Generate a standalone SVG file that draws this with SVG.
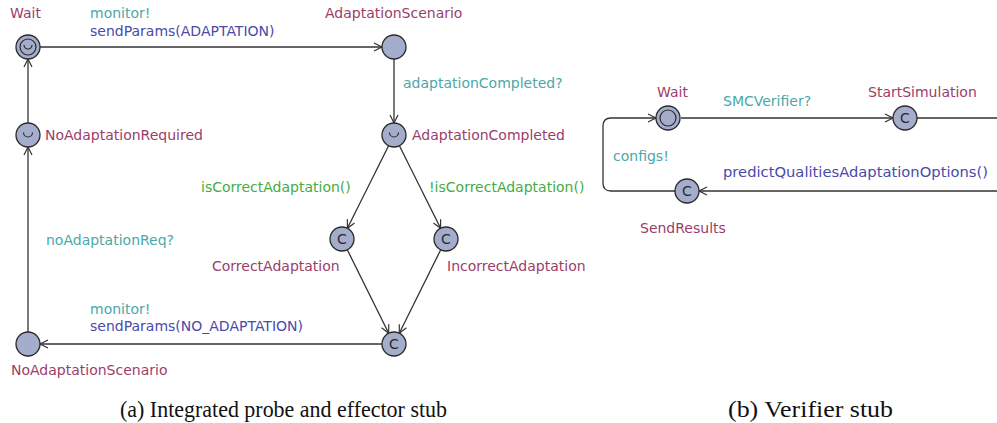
<svg xmlns="http://www.w3.org/2000/svg" width="997" height="423" viewBox="0 0 997 423">
<style>
text{font-family:"DejaVu Sans","Liberation Sans",sans-serif;font-size:14px}
.loc{fill:#a5adcc;stroke:#2a2a2a;stroke-width:1.3}
.ring{fill:none;stroke:#2a2a2a;stroke-width:1.2}
.name{fill:#9a3d6b}
.sync{fill:#4aa8aa}
.upd{fill:#4a4aaa}
.grd{fill:#45ac45}
.sym{font-size:14px;fill:#2a2a2a;text-anchor:middle}
.edge{fill:none;stroke:#333;stroke-width:1.3}
.cap{font-family:"Liberation Serif","Times New Roman",serif;font-size:22.5px;fill:#111}
</style>
<defs>
<marker id="ah" markerUnits="userSpaceOnUse" markerWidth="12" markerHeight="12" refX="9" refY="5" orient="auto">
<path d="M1,1 L9,5 L1,9" fill="none" stroke="#333" stroke-width="1.2"/>
</marker>
</defs>
<rect width="997" height="423" fill="#fff"/>
<g id="connectors">
<line class="edge" x1="40" y1="47" x2="382" y2="47" marker-end="url(#ah)"/>
<line class="edge" x1="394" y1="59" x2="394" y2="123" marker-end="url(#ah)"/>
<line class="edge" x1="388.6" y1="145.7" x2="347.4" y2="228.3" marker-end="url(#ah)"/>
<line class="edge" x1="399.4" y1="145.7" x2="440.6" y2="228.3" marker-end="url(#ah)"/>
<line class="edge" x1="347.3" y1="249.8" x2="388.7" y2="333.2" marker-end="url(#ah)"/>
<line class="edge" x1="440.7" y1="249.8" x2="399.3" y2="333.2" marker-end="url(#ah)"/>
<line class="edge" x1="382" y1="344" x2="40" y2="344" marker-end="url(#ah)"/>
<line class="edge" x1="28" y1="332" x2="28" y2="147" marker-end="url(#ah)"/>
<line class="edge" x1="28" y1="123" x2="28" y2="59" marker-end="url(#ah)"/>
<line class="edge" x1="681" y1="118" x2="893" y2="118" marker-end="url(#ah)"/>
<line class="edge" x1="917" y1="118" x2="997" y2="118"/>
<line class="edge" x1="997" y1="191" x2="699" y2="191" marker-end="url(#ah)"/>
<path class="edge" d="M675,191 H611 Q603,191 603,183 V126 Q603,118 611,118 H656" marker-end="url(#ah)"/>
</g>
<g id="wait">
<circle class="loc" cx="28" cy="47" r="12"/>
<circle class="ring" cx="28" cy="47" r="8"/>
<path class="ring" d="M24,45 a4,4 0 0 0 8,0"/>
<text class="name" x="10" y="18">Wait</text>
</g>
<g id="adaptationScenario">
<circle class="loc" cx="394" cy="47" r="12"/>
<text class="name" x="325" y="18">AdaptationScenario</text>
</g>
<g id="adaptationCompleted">
<circle class="loc" cx="394" cy="135" r="12"/>
<path class="ring" d="M389.5,132.5 a4.5,4.5 0 0 0 9,0"/>
<text class="name" x="412" y="140">AdaptationCompleted</text>
</g>
<g id="noAdaptationRequired">
<circle class="loc" cx="28" cy="135" r="12"/>
<path class="ring" d="M23.5,132.5 a4.5,4.5 0 0 0 9,0"/>
<text class="name" x="45" y="140">NoAdaptationRequired</text>
</g>
<g id="correctAdaptation">
<circle class="loc" cx="342" cy="239" r="12"/>
<text class="sym" x="342" y="244">C</text>
<text class="name" x="212" y="271">CorrectAdaptation</text>
</g>
<g id="incorrectAdaptation">
<circle class="loc" cx="446" cy="239" r="12"/>
<text class="sym" x="446" y="244">C</text>
<text class="name" x="447" y="271">IncorrectAdaptation</text>
</g>
<g id="joinNode">
<circle class="loc" cx="394" cy="344" r="12"/>
<text class="sym" x="394" y="349">C</text>
</g>
<g id="noAdaptationScenario">
<circle class="loc" cx="28" cy="344" r="12"/>
<text class="name" x="11" y="375">NoAdaptationScenario</text>
</g>
<g id="edgeLabels">
<text class="sync" x="90" y="18">monitor!</text>
<text class="upd" x="90" y="36">sendParams(ADAPTATION)</text>
<text class="sync" x="403" y="88">adaptationCompleted?</text>
<text class="grd" x="201" y="192">isCorrectAdaptation()</text>
<text class="grd" x="429" y="192">!isCorrectAdaptation()</text>
<text class="sync" x="46" y="245">noAdaptationReq?</text>
<text class="sync" x="90" y="314">monitor!</text>
<text class="upd" x="90" y="331">sendParams(NO_ADAPTATION)</text>
<text class="sync" x="723" y="106">SMCVerifier?</text>
<text class="sync" x="613" y="161">configs!</text>
<text class="upd" x="723" y="177" textLength="265" lengthAdjust="spacingAndGlyphs">predictQualitiesAdaptationOptions()</text>
</g>
<g id="verifierWait">
<circle class="loc" cx="668" cy="118" r="12"/>
<circle class="ring" cx="668" cy="118" r="8"/>
<text class="name" x="657" y="97">Wait</text>
</g>
<g id="startSimulation">
<circle class="loc" cx="905" cy="118" r="12"/>
<text class="sym" x="905" y="123">C</text>
<text class="name" x="868" y="97">StartSimulation</text>
</g>
<g id="sendResults">
<circle class="loc" cx="687" cy="191" r="12"/>
<text class="sym" x="687" y="196">C</text>
<text class="name" x="640" y="233">SendResults</text>
</g>
<text class="cap" x="120" y="417" textLength="327" lengthAdjust="spacingAndGlyphs">(a) Integrated probe and effector stub</text>
<text class="cap" x="728" y="417" textLength="165" lengthAdjust="spacingAndGlyphs">(b) Verifier stub</text>
</svg>
